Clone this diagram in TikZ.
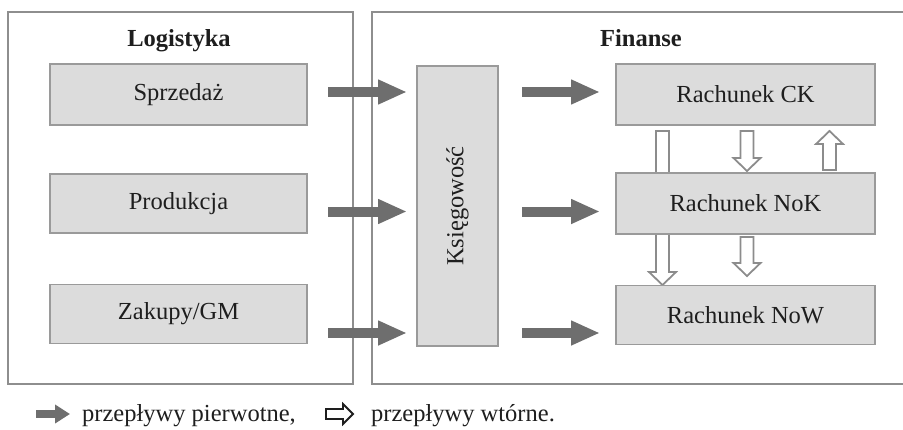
\documentclass[tikz,border=0pt]{standalone}
\usepackage{fontspec}
\setmainfont{Liberation Serif}
\usetikzlibrary{arrows.meta}
\definecolor{panelc}{HTML}{8E8E8E}
\definecolor{boxfill}{HTML}{DCDCDC}
\definecolor{boxline}{HTML}{9A9A9A}
\definecolor{primc}{HTML}{6E6E6E}
\definecolor{secc}{HTML}{8C8C8C}
\definecolor{txt}{HTML}{1E1E1E}
\newcommand{\hollowarrow}[4][]{%
  \draw[hollow,#1,shift={#2},rotate=#3]
    (0,-6.5) -- ({#4-13},-6.5) -- ({#4-13},-13.5) -- (#4,0)
    -- ({#4-13},13.5) -- ({#4-13},6.5) -- (0,6.5) -- cycle;}
\begin{document}
\begin{tikzpicture}[x=1pt,y=-1pt,
  font=\fontsize{24.5}{28}\selectfont, text=txt,
  panel/.style={draw=panelc, line width=1.8pt},
  unit/.style={draw=boxline, fill=boxfill, line width=1.8pt, inner sep=0pt},
  title/.style={font=\fontsize{24.5}{28}\selectfont\bfseries, inner sep=0pt, anchor=base},
  primary/.style={draw=primc, line width=10pt, -{Triangle[length=29pt,width=23pt]}},
  hollow/.style={draw=secc, fill=white, line width=1.8pt, line join=miter},
  legtext/.style={anchor=base west, inner sep=0pt}]
\useasboundingbox (0,0) rectangle (903,429);
\clip (0,0) rectangle (903,429);

% panels
\node[panel, minimum width=345pt, minimum height=372pt, inner sep=0pt] (logp) at (180.5,198) {};
\node[panel, minimum width=548pt, minimum height=372pt, inner sep=0pt] (finp) at (646,198) {};
\node[title] (logt) at (179,46) {Logistyka};
\node[title] (fint) at (641,46) {Finanse};

% secondary (hollow) arrows, drawn below the boxes
\hollowarrow{(662.5,131)}{-90}{154}
\hollowarrow{(747,131)}{-90}{40}
\hollowarrow{(829.5,170)}{90}{39}
\hollowarrow{(747,237)}{-90}{39}

% logistics boxes
\node[unit, minimum width=257pt, minimum height=61pt] (sprz) at (178.5,94.5) {Sprzedaż};
\node[unit, minimum width=257pt, minimum height=59pt] (prod) at (178.5,203.5) {Produkcja};
\node[unit, minimum width=257pt, minimum height=59pt] (zak) at (178.5,314) {Zakupy/GM};

% accounting
\node[unit, rotate=90, minimum width=280pt, minimum height=81pt] (ksi) at (457.5,206) {Księgowość};

% finance boxes
\node[unit, minimum width=259pt, minimum height=61pt] (rck) at (745.5,94.5) {Rachunek CK};
\node[unit, minimum width=259pt, minimum height=61pt] (rnok) at (745.5,203.5) {Rachunek NoK};
\node[unit, minimum width=259pt, minimum height=59pt] (rnow) at (745.5,315) {Rachunek NoW};

% primary arrows
\coordinate (l1s) at (328,92);   \coordinate (l1e) at (407,92);
\coordinate (l2s) at (328,211.5);\coordinate (l2e) at (407,211.5);
\coordinate (l3s) at (328,333);  \coordinate (l3e) at (407,333);
\coordinate (r1s) at (522,92);   \coordinate (r1e) at (600,92);
\coordinate (r2s) at (522,211.5);\coordinate (r2e) at (600,211.5);
\coordinate (r3s) at (522,333);  \coordinate (r3e) at (600,333);
\draw[primary] (l1s) -- (l1e);
\draw[primary] (l2s) -- (l2e);
\draw[primary] (l3s) -- (l3e);
\draw[primary] (r1s) -- (r1e);
\draw[primary] (r2s) -- (r2e);
\draw[primary] (r3s) -- (r3e);

% legend
\coordinate (lg1s) at (36,414); \coordinate (lg1e) at (70,414);
\draw[draw=primc, line width=8pt, -{Triangle[length=15pt,width=18pt]}] (lg1s) -- (lg1e);
\node[legtext] (lgt1) at (82,421) {przepływy pierwotne,};
\draw[draw=txt, line width=1.8pt, line join=miter, fill=white]
  (326,409) -- (343,409) -- (343,404) -- (353,414) -- (343,424) -- (343,419) -- (326,419) -- cycle;
\node[legtext] (lgt2) at (371,421) {przepływy wtórne.};
\end{tikzpicture}
\end{document}
